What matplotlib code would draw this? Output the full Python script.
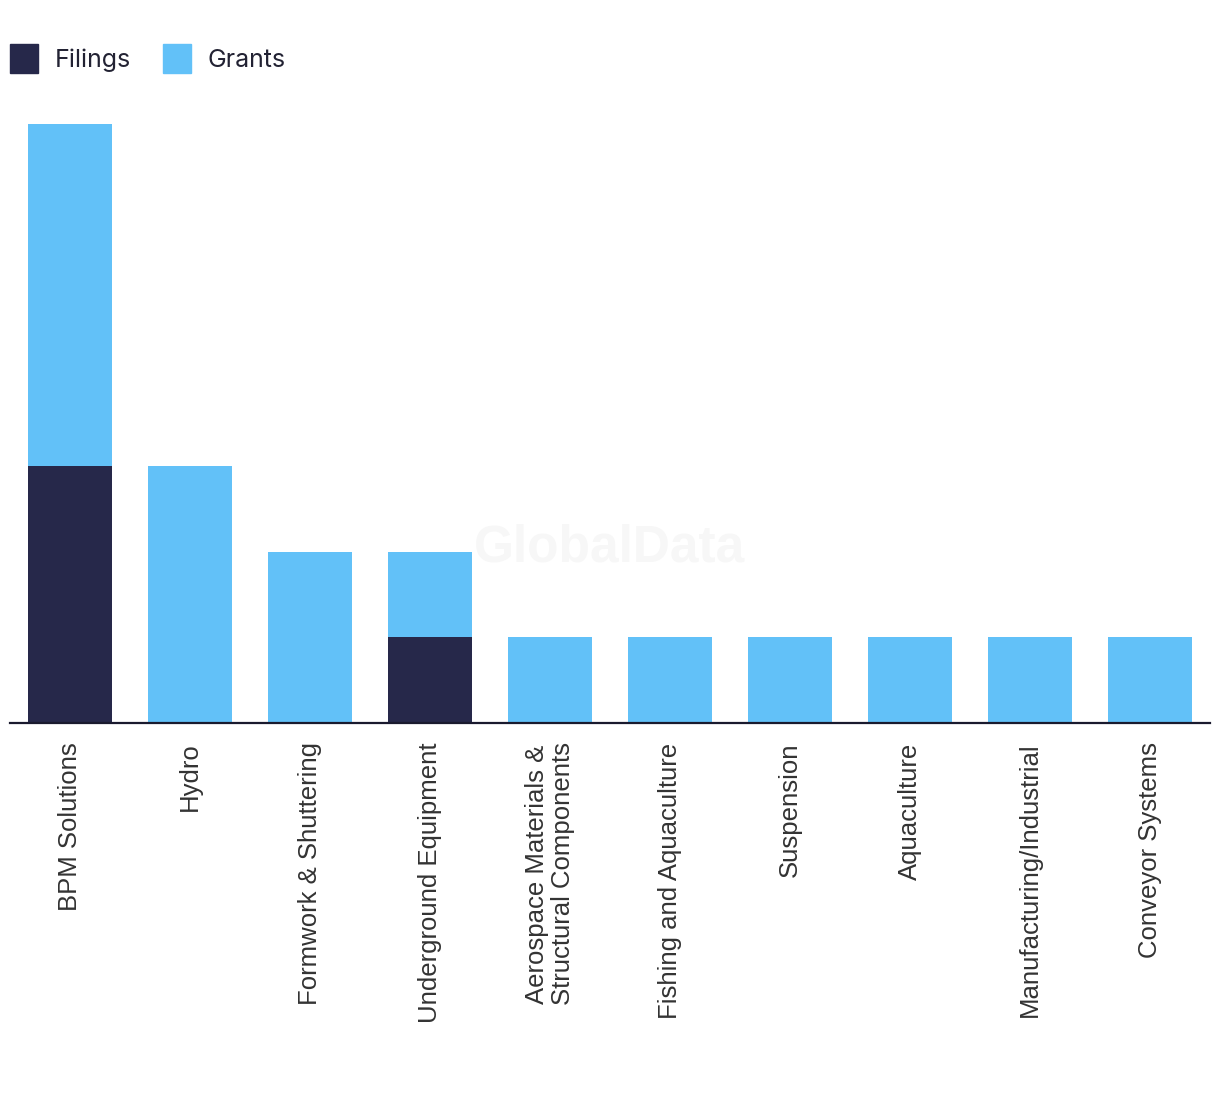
import matplotlib
matplotlib.use("Agg")
import matplotlib.pyplot as plt
from matplotlib.patches import Patch

categories = [
    "BPM Solutions", "Hydro", "Formwork & Shuttering", "Underground Equipment",
    "Aerospace Materials &\nStructural Components", "Fishing and Aquaculture",
    "Suspension", "Aquaculture", "Manufacturing/Industrial", "Conveyor Systems",
]
filings = [3, 0, 0, 1, 0, 0, 0, 0, 0, 0]
grants = [4, 3, 2, 1, 1, 1, 1, 1, 1, 1]

FILINGS_COLOR = "#26284A"
GRANTS_COLOR = "#62C1F8"

fig = plt.figure(figsize=(12.2, 10.94), dpi=100)
ax = fig.add_axes([10 / 1220, 371 / 1094, 1200 / 1220, 599 / 1094])

x = range(len(categories))
ax.bar(x, filings, width=0.7, color=FILINGS_COLOR)
ax.bar(x, grants, width=0.7, bottom=filings, color=GRANTS_COLOR)

ax.set_xlim(-0.5, len(categories) - 0.5)
ax.set_ylim(0, 7)
ax.set_xticks(list(x))
ax.set_xticklabels(categories, rotation=90, fontsize=18.5, color="#333333",
                   family="Liberation Sans", linespacing=1.12)
ax.tick_params(axis="x", length=0, pad=14)
ax.set_yticks([])
for side in ["left", "right", "top"]:
    ax.spines[side].set_visible(False)
ax.spines["bottom"].set_color("#1a1a2e")
ax.spines["bottom"].set_linewidth(1.6)

# faint watermark
fig.text(610 / 1220, 1 - 548 / 1094, "GlobalData", ha="center", va="center",
         fontsize=37, fontweight="bold", color="#f7f7f7", family="Liberation Sans",
         zorder=0)

handles = [Patch(color=FILINGS_COLOR, label="Filings"),
           Patch(color=GRANTS_COLOR, label="Grants")]
fig.legend(handles=handles, loc="upper left", bbox_to_anchor=(0.0, 1 - 34 / 1094),
           ncol=2, frameon=False, handlelength=1.12, handleheight=1.4,
           handletextpad=0.68, columnspacing=1.25, borderaxespad=0, borderpad=0.4,
           prop={"family": "Inter", "size": 18}, labelcolor="#222233")

fig.savefig("out.png", dpi=100, facecolor="white")
